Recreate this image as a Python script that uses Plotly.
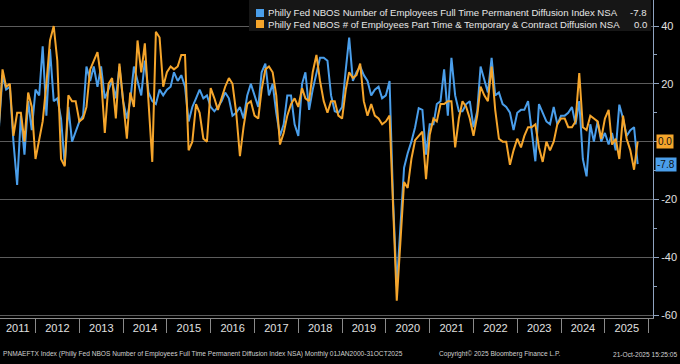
import pandas as pd
import plotly.graph_objects as go

# Monthly observations, Mar-2011 .. Oct-2025
dates = pd.date_range("2011-03-01", periods=176, freq="MS")

full_time = [
    4, 23, 18, 19, 0, -15, 9, -4.5, 14, 4,                      # 2011 Mar-Dec
    18, 16, 33, 9, 32, 14, 15, 8, -8, 12, 0, 3.5,               # 2012
    7, 9, 26, 21, 26, 19, 26, 15, 18, 21, 15, 26,               # 2013
    14, 8, 14, 26, 21, 16, 28, 17, 14, 13, 18, 16,              # 2014
    18, 19, 24, 21, 23, 19, 7, 12, 15, 18, 15, 16,              # 2015
    12, 10.5, 12, 14, 17, 15, 9, 10, 12, 8, 16, 20,             # 2016
    16, 12, 24, 27, 16, 20, 10, 2, 6, 16, 16, 6,                # 2017
    2, 20, 24, 11, 18, 24, 29, 29, 28, 16, 10.5, 10,            # 2018
    12, 25, 36, 21, 24, 26, 23, 21, 16, 18, 19, 15,             # 2019
    16, 21, -20, -50, -30, -9, -4, 0, 5, 11.6, 11, -4.5,        # 2020
    6, 6, 13, 14, 25, 9, 29, 16, 10.5, 10.5, 13, 14,            # 2021
    5, 10.5, 26, 21, 17, 29, 16, 17, 13, 12, 10, 4,             # 2022
    10, 11, 11, 14, 4, -6.8, 13, 10, 7, 6, 12, 6,               # 2023
    9, 9, 10, 12, 6, 14, -6, -12, 6, 0, 7, 0,                   # 2024
    3, -1, 3, -3, 12.8, 8, 2, 4, 5, -7.8,                       # 2025 Jan-Oct
]

part_time = [
    5, 25, 19, 20, 2, 10, 10, 0, 17, 12,                       # 2011 Mar-Dec
    -6, 1, 7, 20, 35, 40, 28, -6, -8.5, 16, 14, 14,             # 2012
    7, 8, 12, 25, 28, 31, 22, 3, 20, 22, 8, 27,                 # 2013
    14, 1, 17, 12, 35, 24, 34, 13, -7, 38, 36, 19,              # 2014
    24, 26, 25, 26, 30, 30, -3, 0, 13, 10, 1, 0,                # 2015
    18.5, 15, 11, 15, 19, 22, 20, 10, -5, 5, 13, 14,            # 2016
    9, 8, 18, 25, 26, 24, 16, -1, 3, 9, 13, 15,                 # 2017
    12, 18.5, 15, 14, 24, 30, 21, 14, 10, 14, 14, 9,            # 2018
    8, 18, 24, 22, 23, 27, 14, 9, 13, 9, 8, 6,                  # 2019
    7, 9, -22, -55, -35, -14, -16, -6, 0.5, 2, 3.5, -13,        # 2020
    2.4, 8, 7, 13, 13, 14, 14, -2, 8, 14, 12, 8,                # 2021
    2, 9, 19, 16, 14, 26, 11, 1, 0, 0, -8, -3,                  # 2022
    1, -2, 2, 5, 5, 6, -2, -7, 0, -3, 0, 6,                     # 2023
    8, 8, 5, 5, 7, 23.7, 5, 4, 9, 8, 7, 1,                      # 2024
    8, 11, -1, 1, -6, 9, 1, -3, -9.7, 0.0,                      # 2025 Jan-Oct
]

year_labels = [str(y) for y in range(2011, 2026)]
y_ticks = [-60, -40, -20, 0, 20, 40]
# the 0 label sits under the last-value tag, as in the original
y_ticktext = ["-60", "-40", "-20", "", "20", "40"]

series_names = [
    "Philly Fed NBOS Number of Employees Full Time Permanent Diffusion Index NSA",
    "Philly Fed NBOS # of Employees Part Time & Temporary & Contract Diffusion NSA",
]
footer_left = ("PNMAEFTX Index (Philly Fed NBOS Number of Employees Full Time Permanent "
               "Diffusion Index NSA) Monthly 01JAN2000-31OCT2025")
footer_mid = "Copyright\u00a9 2025 Bloomberg Finance L.P."
footer_right = "21-Oct-2025 15:25:05"

BLUE = "#4a9eea"
ORANGE = "#f5a52b"
FONT = "Liberation Sans Narrow, Arial Narrow, Liberation Sans, Arial, sans-serif"

W, H = 680, 364
ML, MR, MT, MB = 0, 27, 0, 46
PW, PH = W - ML - MR, H - MT - MB

X_START = pd.Timestamp("2011-03-11")
X_END = pd.Timestamp("2026-02-06")


def px(x):
    return (x - ML) / PW


def py(y):
    return 1 - (y - MT) / PH


# year label positions: centre of the visible part of each calendar year
label_pos = []
for lab in year_labels:
    a = max(pd.Timestamp(f"{lab}-01-01"), X_START)
    b = min(pd.Timestamp(f"{int(lab) + 1}-01-01"), X_END)
    label_pos.append(a + (b - a) / 2)

fig = go.Figure()
fig.add_trace(go.Scatter(x=dates, y=full_time, mode="lines", name=series_names[0],
                         line=dict(color=BLUE, width=2)))
fig.add_trace(go.Scatter(x=dates, y=part_time, mode="lines", name=series_names[1],
                         line=dict(color=ORANGE, width=2)))

shapes = [
    dict(type="rect", xref="paper", yref="paper", x0=px(249), x1=px(651), y0=py(31), y1=py(0),
         fillcolor="#161616", line=dict(width=0), layer="above"),
    dict(type="rect", xref="paper", yref="paper", x0=px(256), x1=px(264), y0=py(17), y1=py(9),
         fillcolor=BLUE, line=dict(width=0), layer="above"),
    dict(type="rect", xref="paper", yref="paper", x0=px(256), x1=px(264), y0=py(28), y1=py(20),
         fillcolor=ORANGE, line=dict(width=0), layer="above"),
]

last_ft = full_time[-1]
last_pt = part_time[-1]
TXT = "#e6e6e6"
FOOT = "#d0d0d0"
LEG = 9.6

annotations = [
    dict(xref="paper", yref="paper", x=px(266), y=py(13), xanchor="left", yanchor="middle",
         text=series_names[0], showarrow=False, font=dict(family=FONT, size=LEG, color=TXT)),
    dict(xref="paper", yref="paper", x=px(266), y=py(24.5), xanchor="left", yanchor="middle",
         text=series_names[1], showarrow=False, font=dict(family=FONT, size=LEG, color=TXT)),
    dict(xref="paper", yref="paper", x=px(649), y=py(13), xanchor="right", yanchor="middle",
         text=f"{last_ft:.1f}", showarrow=False, font=dict(family=FONT, size=LEG, color=TXT)),
    dict(xref="paper", yref="paper", x=px(649), y=py(24.5), xanchor="right", yanchor="middle",
         text=f"{last_pt:.1f}", showarrow=False, font=dict(family=FONT, size=LEG, color=TXT)),
    # last-value tags on the right axis
    dict(xref="paper", yref="y", x=px(656), y=last_pt, xanchor="left", yanchor="middle",
         text=f"{last_pt:.1f}", showarrow=False, bgcolor=ORANGE, borderpad=1,
         font=dict(family=FONT, size=10, color="#111")),
    dict(xref="paper", yref="y", x=px(655), y=last_ft, xanchor="left", yanchor="middle",
         text=f"{last_ft:.1f}", showarrow=False, bgcolor=BLUE, borderpad=1,
         font=dict(family=FONT, size=10, color="#111")),
    # footer
    dict(xref="paper", yref="paper", x=px(1), y=py(354), xanchor="left", yanchor="middle",
         text=footer_left, showarrow=False, font=dict(family=FONT, size=6.6, color=FOOT)),
    dict(xref="paper", yref="paper", x=px(437), y=py(354), xanchor="left", yanchor="middle",
         text=footer_mid, showarrow=False, font=dict(family=FONT, size=6.6, color=FOOT)),
    dict(xref="paper", yref="paper", x=px(679), y=py(354), xanchor="right", yanchor="middle",
         text=footer_right, showarrow=False, font=dict(family=FONT, size=6.6, color=FOOT)),
]

fig.update_layout(
    template="none",
    width=W, height=H,
    margin=dict(l=ML, r=MR, t=MT, b=MB, pad=0, autoexpand=False),
    paper_bgcolor="black", plot_bgcolor="black",
    showlegend=False,
    hovermode=False,
    shapes=shapes,
    annotations=annotations,
    xaxis=dict(
        type="date", range=[X_START, X_END], automargin=False,
        tickmode="array", tickvals=label_pos, ticktext=year_labels,
        ticks="", showgrid=False, zeroline=False,
        showline=True, linecolor="#8a8a8a", linewidth=1,
        tickfont=dict(family=FONT, size=11, color="#e0e0e0"),
        minor=dict(dtick="M12", tick0="2011-01-01", ticks="outside", ticklen=14,
                   tickcolor="#8a8a8a", tickwidth=1, showgrid=False),
    ),
    yaxis=dict(
        side="right", range=[-61, 49], automargin=False,
        tickmode="array", tickvals=y_ticks, ticktext=y_ticktext,
        showgrid=True, gridcolor="#5c5c5c", gridwidth=1,
        zeroline=False,
        ticks="outside", ticklen=5, tickcolor="#8fa3bf",
        showline=True, linecolor="#8fa3bf", linewidth=1,
        tickfont=dict(family=FONT, size=11, color="#e0e0e0"),
        minor=dict(dtick=10, tick0=0, ticks="outside", ticklen=3, tickcolor="#8fa3bf",
                   showgrid=False),
    ),
)

fig.write_html(
    "out.html",
    config={"displayModeBar": False, "staticPlot": True},
    post_script="document.body.style.margin='0px'; document.body.style.background='black';",
)
